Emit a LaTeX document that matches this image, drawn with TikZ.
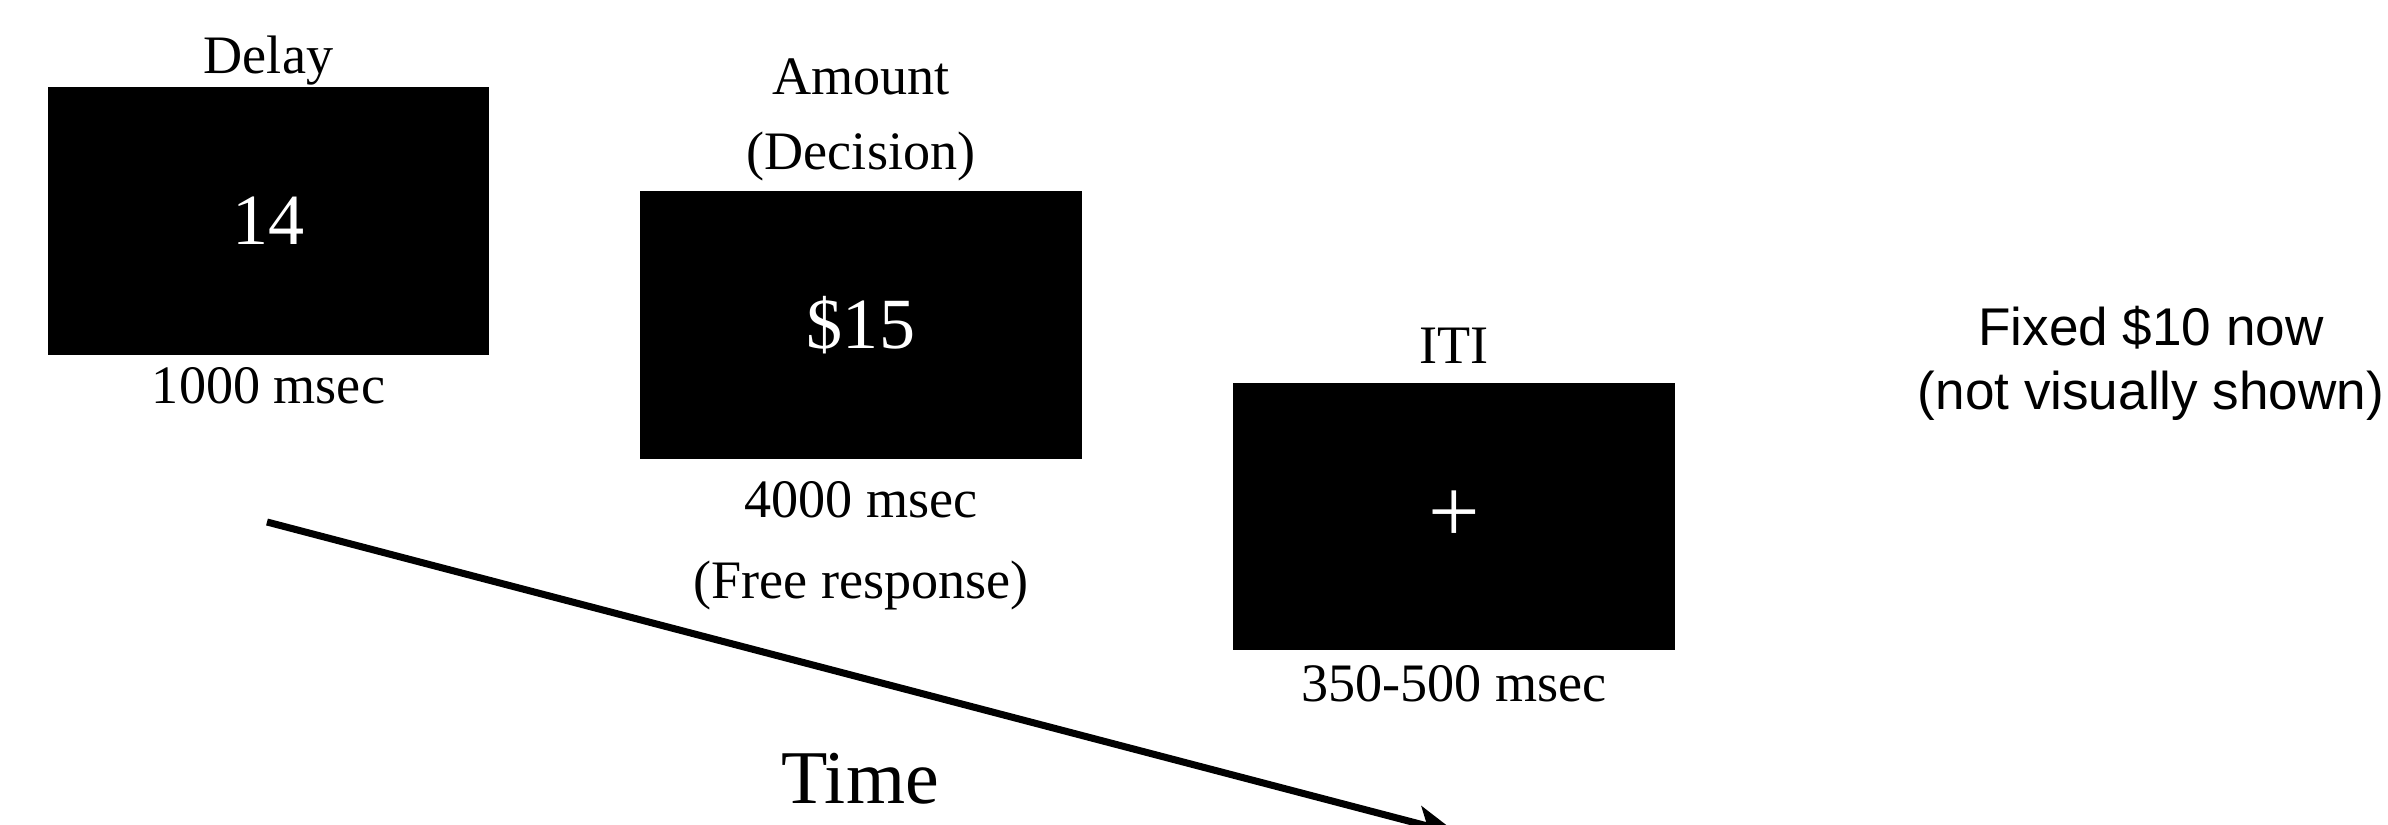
\documentclass[tikz,border=0pt]{standalone}
\usepackage{fontspec}
\setmainfont{Liberation Serif}
\newfontfamily\notefont{Liberation Sans}
\usetikzlibrary{calc,positioning,arrows.meta}
\tikzset{
  screen/.style={fill=black, draw=none, inner sep=0pt, text=white,
    minimum width=4.41cm, minimum height=2.67cm,
    font=\fontsize{20.5}{24}\selectfont},
  caption/.style={anchor=base, inner sep=0pt, font=\fontsize{15.4}{18}\selectfont}
}

\begin{document}
\begin{tikzpicture}[x=0.01cm, y=-0.01cm]
  \useasboundingbox (0,0) rectangle (2388,825);

  \node [screen] at (268.5,221) (scr1) {14};
  \node [screen] at (861,325) (scr2) {\$15};
  \node [screen, font=\fontsize{26}{30}\selectfont] at (1454,516.5) (scr3) {+};

  \node [caption] at($(scr1.north) + (0,-13)$) (delay) {Delay};
  \node [caption] at($(scr1.south) + (0,48.5)$) (msec1) {1000 msec};

  \node [caption] at($(scr2.north) + (0,-96)$) (amount) {Amount};
  \node [caption] at($(scr2.north) + (0,-21)$) (decision) {(Decision)};
  \node [caption] at($(scr2.south) + (0,58)$) (msec2) {4000 msec};
  \node [caption] at($(scr2.south) + (0,139)$) (free) {(Free response)};

  \node [caption] at($(scr3.north) + (0,-19)$) (iti) {ITI};
  \node [caption] at($(scr3.south) + (0,51)$) (msec3) {350-500 msec};

  \coordinate (tstart) at (267,522);
  \coordinate (tend) at (1458,834);
  \draw [line width=2pt, -{Stealth[length=12pt, width=10pt, inset=3pt]}] (tstart) -- (tend);
  \node [anchor=base, inner sep=0pt, font=\fontsize{21.6}{26}\selectfont] at (860,803) (time) {Time};

  \node [anchor=base, align=center, inner sep=0pt, font=\notefont\fontsize{15.1}{18.2}\selectfont] at (2151,410) (fixed) {Fixed \$10 now\\(not visually shown)};
\end{tikzpicture}
\end{document}
